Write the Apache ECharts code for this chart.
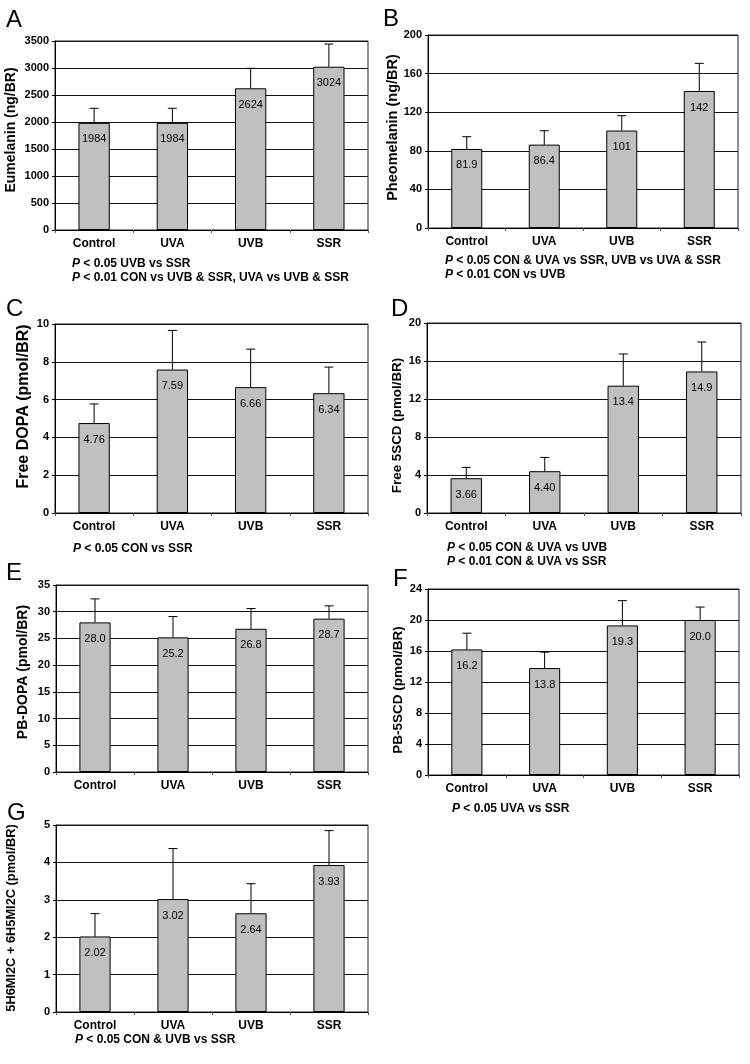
<!DOCTYPE html>
<html>
<head>
<meta charset="utf-8">
<script src="https://cdn.jsdelivr.net/npm/echarts@6/dist/echarts.min.js"></script>
<style>
html,body{margin:0;padding:0;background:#fff;}
#c{width:750px;height:1064px;}
</style>
</head>
<body>
<div id="c"></div>
<script>
// ---- data ----
const categories = ['Control', 'UVA', 'UVB', 'SSR'];

const eumelanin = [1984, 1984, 2624, 3024];
const eumelaninErr = [270, 270, 370, 420];
const pheomelanin = [81.9, 86.4, 101, 142];
const pheomelaninErr = [12.7, 14.4, 15.4, 28.6];
const freeDopa = [4.76, 7.59, 6.66, 6.34];
const freeDopaErr = [1.01, 2.07, 2.01, 1.38];
const free5scd = [3.66, 4.40, 13.4, 14.9];
const free5scdErr = [1.14, 1.45, 3.34, 3.1];
const pbDopa = [28.0, 25.2, 26.8, 28.7];
const pbDopaErr = [4.4, 3.9, 3.8, 2.4];
const pb5scd = [16.2, 13.8, 19.3, 20.0];
const pb5scdErr = [2.1, 2.05, 3.2, 1.67];
const mi2c = [2.02, 3.02, 2.64, 3.93];
const mi2cErr = [0.61, 1.35, 0.79, 0.92];

const yTicksA = [0, 3500, 500];
const yTicksB = [0, 200, 40];
const yTicksC = [0, 10, 2];
const yTicksD = [0, 20, 4];
const yTicksE = [0, 35, 5];
const yTicksF = [0, 24, 4];
const yTicksG = [0, 5, 1];

const notesA = ['{i|P} < 0.05 UVB vs SSR', '{i|P} < 0.01 CON vs UVB & SSR, UVA vs UVB & SSR'];
const notesB = ['{i|P} < 0.05 CON & UVA vs SSR, UVB vs UVA & SSR', '{i|P} < 0.01 CON vs UVB'];
const notesC = ['{i|P} < 0.05 CON vs SSR'];
const notesD = ['{i|P} < 0.05 CON & UVA vs UVB', '{i|P} < 0.01 CON & UVA vs SSR'];
const notesE = [];
const notesF = ['{i|P} < 0.05 UVA vs SSR'];
const notesG = ['{i|P} < 0.05 CON & UVB vs SSR'];

// ---- layout ----
const FONT = '"Liberation Sans", Arial, Helvetica, sans-serif';
const panels = [
  {letter:'A', name:'Eumelanin (ng/BR)', vals:eumelanin, err:eumelaninErr, ticks:yTicksA, notes:notesA,
   grid:{left:55, top:41, width:313, height:189}, nameSize:14, namePos:[11,130],
   letterPos:[6,8], notePos:[72,256]},
  {letter:'B', name:'Pheomelanin (ng/BR)', vals:pheomelanin, err:pheomelaninErr, ticks:yTicksB, notes:notesB,
   grid:{left:428, top:35, width:310, height:193}, nameSize:14.5, namePos:[392.5,127.5],
   letterPos:[383,7], notePos:[445,253]},
  {letter:'C', name:'Free DOPA (pmol/BR)', vals:freeDopa, err:freeDopaErr, ticks:yTicksC, notes:notesC,
   grid:{left:55, top:324, width:313, height:189}, nameSize:16, namePos:[24,406.5],
   letterPos:[6,297], notePos:[73,541]},
  {letter:'D', name:'Free 5SCD (pmol/BR)', vals:free5scd, err:free5scdErr, ticks:yTicksD, notes:notesD,
   grid:{left:427, top:323, width:314, height:190}, nameSize:13.4, namePos:[397,425.5],
   letterPos:[391,297], notePos:[447,540]},
  {letter:'E', name:'PB-DOPA (pmol/BR)', vals:pbDopa, err:pbDopaErr, ticks:yTicksE, notes:notesE,
   grid:{left:56, top:585, width:312, height:187}, nameSize:14, namePos:[22.7,672],
   letterPos:[6,561], notePos:[72,790]},
  {letter:'F', name:'PB-5SCD (pmol/BR)', vals:pb5scd, err:pb5scdErr, ticks:yTicksF, notes:notesF,
   grid:{left:428, top:589, width:311, height:186}, nameSize:13.5, namePos:[398.3,690],
   letterPos:[393,567], notePos:[452,801]},
  {letter:'G', name:'5H6MI2C + 6H5MI2C (pmol/BR)', vals:mi2c, err:mi2cErr, ticks:yTicksG, notes:notesG,
   grid:{left:56, top:825, width:312, height:187}, nameSize:12.8, namePos:[11,918],
   letterPos:[7,801], notePos:[75,1032]}
];

function fmt(v) {
  return v >= 1000 ? v.toFixed(0) : v.toPrecision(3);
}

const option = {
  animation: false,
  backgroundColor: '#fff',
  textStyle: {fontFamily: FONT},
  grid: [], xAxis: [], yAxis: [], series: [], title: [], graphic: []
};

panels.forEach((p, i) => {
  option.grid.push(Object.assign({show: true, borderColor: '#222', borderWidth: 1, containLabel: false}, p.grid));
  option.xAxis.push({
    type: 'category', gridIndex: i, data: categories, boundaryGap: true,
    axisLine: {lineStyle: {color: '#000', width: 1}},
    axisTick: {show: true, length: 3, lineStyle: {color: '#555'}},
    axisLabel: {color: '#000', fontWeight: 'bold', fontSize: 12, margin: 8, fontFamily: FONT}
  });
  option.yAxis.push({
    type: 'value', gridIndex: i, min: p.ticks[0], max: p.ticks[1], interval: p.ticks[2],
    axisLine: {show: true, lineStyle: {color: '#000', width: 1}},
    axisTick: {show: true, length: 3, lineStyle: {color: '#000'}},
    axisLabel: {color: '#000', fontWeight: 'bold', fontSize: 11, margin: 6, fontFamily: FONT,
      formatter: (v) => String(v)},
    splitLine: {show: true, lineStyle: {color: '#111', width: 1}}
  });
  option.series.push({
    type: 'bar', xAxisIndex: i, yAxisIndex: i, data: p.vals, barWidth: '40%',
    itemStyle: {color: '#c0c0c0', borderColor: '#000', borderWidth: 1},
    label: {show: true, position: 'insideTop', distance: 11, color: '#000', fontSize: 11,
      fontFamily: FONT, formatter: (d) => fmt(d.value)},
    z: 2
  });
  option.series.push({
    type: 'custom', xAxisIndex: i, yAxisIndex: i,
    data: p.vals.map((v, k) => [k, v, p.err[k]]),
    renderItem: function (params, api) {
      const x = api.value(0), v = api.value(1), e = api.value(2);
      const a = api.coord([x, v]);
      const b = api.coord([x, v + e]);
      const style = {stroke: '#000', lineWidth: 1};
      return {
        type: 'group',
        children: [
          {type: 'line', shape: {x1: a[0], y1: a[1], x2: b[0], y2: b[1]}, style: style},
          {type: 'line', shape: {x1: b[0] - 4.5, y1: b[1], x2: b[0] + 4.5, y2: b[1]}, style: style}
        ]
      };
    },
    z: 3
  });
  option.graphic.push({
    type: 'text', x: p.namePos[0], y: p.namePos[1], rotation: Math.PI / 2, silent: true,
    style: {text: p.name, fill: '#000', font: 'bold ' + p.nameSize + 'px ' + FONT,
      align: 'center', verticalAlign: 'middle', textAlign: 'center', textVerticalAlign: 'middle'}
  });
  option.title.push({
    text: p.letter, left: p.letterPos[0], top: p.letterPos[1], padding: 0,
    textStyle: {fontSize: 24, fontWeight: 'normal', color: '#000', fontFamily: FONT}
  });
  if (p.notes.length) {
    option.title.push({
      text: p.notes.join('\n'), left: p.notePos[0], top: p.notePos[1], padding: 0,
      textStyle: {fontSize: 12, fontWeight: 'bold', color: '#000', lineHeight: 14.5, fontFamily: FONT,
        rich: {i: {fontStyle: 'italic', fontWeight: 'bold', fontSize: 12, color: '#000', lineHeight: 14.5, fontFamily: FONT}}}
    });
  }
});

const chart = echarts.init(document.getElementById('c'), null, {renderer: 'canvas'});
chart.setOption(option);
</script>
</body>
</html>
